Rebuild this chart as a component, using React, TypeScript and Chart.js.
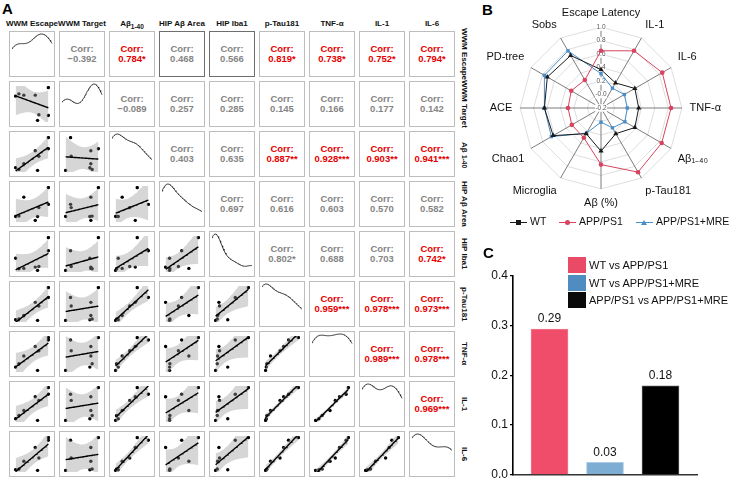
import React, { useEffect, useRef } from "react";
import { Chart, registerables } from "chart.js";

Chart.register(...registerables);

const FONT = "'Liberation Sans', Arial, Helvetica, sans-serif";

// ---------- Panel A data (relative values per sample) ----------
const varNames = ["WWM Escape", "WWM Target", "Aβ1-40", "HIP Aβ Area", "HIP Iba1", "p-Tau181", "TNF-α", "IL-1", "IL-6"];
const wwmEscape = [1.0, 1.0, 0.6, 0.71, 0.25, 0.0, 0.1, 0.67];
const wwmTarget = [1.0, 0.15, 0.77, 0.17, 0.77, 0.74, 0.81, 0.0];
const abeta140 = [0.66, 1.0, 0.6, 0.43, 0.2, 0.08, 0.03, 0.0];
const hipArea = [1.0, 0.49, 0.0, 0.39, 0.71, 0.12, 0.13, 0.12];
const hipIba1 = [1.0, 0.6, 0.1, 0.12, 0.06, 0.37, 0.05, 0.0];
const pTau181 = [1.0, 0.7, 0.55, 0.44, 0.15, 0.02, 0.04, 0.0];
const tnfA = [1.0, 0.93, 0.73, 0.6, 0.44, 0.1, 0.2, 0.0];
const il1 = [1.0, 0.8, 0.72, 0.61, 0.3, 0.05, 0.15, 0.0];
const il6 = [1.0, 0.92, 0.7, 0.38, 0.28, 0.02, 0.04, 0.0];
const sampleTable = [wwmEscape, wwmTarget, abeta140, hipArea, hipIba1, pTau181, tnfA, il1, il6];

const corrText = [
  ["−0.392", "0.784*", "0.468", "0.566", "0.819*", "0.738*", "0.752*", "0.794*"],
  ["−0.089", "0.257", "0.285", "0.145", "0.166", "0.177", "0.142"],
  ["0.403", "0.635", "0.887**", "0.928***", "0.903**", "0.941***"],
  ["0.697", "0.616", "0.603", "0.570", "0.582"],
  ["0.802*", "0.688", "0.703", "0.742*"],
  ["0.959***", "0.978***", "0.973***"],
  ["0.989***", "0.978***"],
  ["0.969***"],
];
const corrRed = [
  [false, true, false, false, true, true, true, true],
  [false, false, false, false, false, false, false],
  [false, false, true, true, true, true],
  [false, false, false, false, false],
  [false, false, false, true],
  [true, true, true],
  [true, true],
  [true],
];

// ---------- Panel B data ----------
const radarAxes = ["Escape Latency", "IL-1", "IL-6", "TNF-α", "Aβ₁₋₄₀", "p-Tau181", "Aβ (%)", "Microglia", "Chao1", "ACE", "PD-tree", "Sobs"];
const radarWT = [0.37, 0.23, 0.38, 0.36, 0.38, 0.24, 0.44, 0.24, 0.62, 0.64, 0.72, 0.7];
const radarAPP = [0.65, 0.78, 0.85, 0.84, 0.84, 0.9, 0.64, 0.31, 0.3, 0.29, 0.31, 0.28];
const radarMRE = [0.31, 0.14, 0.2, 0.19, 0.21, 0.14, 0.01, 0.23, 0.65, 0.64, 0.77, 0.78];
const radarSeries = ["WT", "APP/PS1", "APP/PS1+MRE"];

// ---------- Panel C data ----------
const barLabels = ["WT vs APP/PS1", "WT vs APP/PS1+MRE", "APP/PS1 vs APP/PS1+MRE"];
const barValues = [0.293, 0.025, 0.179];
const barTicks = [0, 0.1, 0.2, 0.3, 0.4];

const RED = "#d9435f";
const BLUE = "#4a8dc8";
const BLACK = "#1a1a1a";

// ---------- helpers ----------
function mean(v: number[]) {
  return v.reduce((a, b) => a + b, 0) / v.length;
}
function quantile(sorted: number[], p: number) {
  const h = (sorted.length - 1) * p;
  const lo = Math.floor(h);
  const hi = Math.min(lo + 1, sorted.length - 1);
  return sorted[lo] + (h - lo) * (sorted[hi] - sorted[lo]);
}
function bwNrd0(v: number[]) {
  const n = v.length;
  const m = mean(v);
  const sd = Math.sqrt(v.reduce((a, b) => a + (b - m) * (b - m), 0) / (n - 1));
  const s = [...v].sort((a, b) => a - b);
  const iqr = quantile(s, 0.75) - quantile(s, 0.25);
  let lo = Math.min(sd, iqr / 1.34);
  if (!(lo > 0)) lo = sd || 1;
  return 0.9 * lo * Math.pow(n, -0.2);
}
function range(v: number[]) {
  const mn = Math.min(...v);
  const mx = Math.max(...v);
  const pad = (mx - mn) * 0.05;
  return { mn, mx, lo: mn - pad, hi: mx + pad };
}

const baseOptions = {
  animation: false as const,
  responsive: false,
  events: [] as any[],
  layout: { padding: 0 },
  plugins: { legend: { display: false }, tooltip: { enabled: false } },
};

function lowerConfig(xs: number[], ys: number[]): any {
  const n = xs.length;
  const rx = range(xs);
  const ry = range(ys);
  const mx = mean(xs);
  const my = mean(ys);
  let sxx = 0;
  let sxy = 0;
  xs.forEach((x, i) => {
    sxx += (x - mx) * (x - mx);
    sxy += (x - mx) * (ys[i] - my);
  });
  const b = sxy / sxx;
  const a = my - b * mx;
  let sse = 0;
  xs.forEach((x, i) => {
    const r = ys[i] - (a + b * x);
    sse += r * r;
  });
  const s = Math.sqrt(sse / (n - 2));
  const t = 2.447; // t(0.975, df = 6)
  const line: any[] = [];
  const up: any[] = [];
  const lo: any[] = [];
  const steps = 40;
  for (let k = 0; k <= steps; k++) {
    const x = rx.mn + ((rx.mx - rx.mn) * k) / steps;
    const yh = a + b * x;
    const se = s * Math.sqrt(1 / n + ((x - mx) * (x - mx)) / sxx);
    line.push({ x, y: yh });
    up.push({ x, y: yh + t * se });
    lo.push({ x, y: yh - t * se });
  }
  const pts = xs.map((x, i) => ({ x, y: ys[i] }));
  return {
    type: "scatter",
    data: {
      datasets: [
        { data: line, showLine: true, borderColor: "#000", borderWidth: 1.4, pointRadius: 0, fill: false },
        { data: up, showLine: true, borderColor: "rgba(0,0,0,0)", borderWidth: 0, pointRadius: 0, fill: "+1", backgroundColor: "rgba(153,153,153,0.4)" },
        { data: lo, showLine: true, borderColor: "rgba(0,0,0,0)", borderWidth: 0, pointRadius: 0, fill: false },
        { data: pts, pointRadius: 1.7, pointBackgroundColor: "#000", pointBorderWidth: 0, showLine: false },
      ],
    },
    options: {
      ...baseOptions,
      scales: {
        x: { type: "linear", display: false, min: rx.lo, max: rx.hi },
        y: { type: "linear", display: false, min: ry.lo, max: ry.hi },
      },
    },
  };
}

function diagConfig(v: number[]): any {
  const r = range(v);
  const bw = bwNrd0(v);
  const pts: any[] = [];
  const steps = 60;
  let dmax = 0;
  for (let k = 0; k <= steps; k++) {
    const x = r.mn + ((r.mx - r.mn) * k) / steps;
    let d = 0;
    v.forEach((xi) => {
      const z = (x - xi) / bw;
      d += Math.exp(-0.5 * z * z);
    });
    d = d / (v.length * bw * Math.sqrt(2 * Math.PI));
    dmax = Math.max(dmax, d);
    pts.push({ x, y: d });
  }
  return {
    type: "scatter",
    data: { datasets: [{ data: pts, showLine: true, borderColor: "#222", borderWidth: 0.9, pointRadius: 0, fill: false }] },
    options: {
      ...baseOptions,
      scales: {
        x: { type: "linear", display: false, min: r.lo, max: r.hi },
        y: { type: "linear", display: false, min: -0.05 * dmax, max: 1.05 * dmax },
      },
    },
  };
}

function ChartCanvas(props: { make: () => any; left: number; top: number; width: number; height: number }) {
  const ref = useRef<HTMLCanvasElement>(null);
  useEffect(() => {
    const chart = new Chart(ref.current as HTMLCanvasElement, props.make());
    return () => chart.destroy();
  }, []);
  return (
    <canvas
      ref={ref}
      width={props.width}
      height={props.height}
      style={{ position: "absolute", left: props.left, top: props.top, width: props.width, height: props.height }}
    />
  );
}

function VarLabel({ name }: { name: string }) {
  if (name === "Aβ1-40") {
    return (
      <span>
        Aβ<span style={{ fontSize: "6.5px", position: "relative", top: "2.5px" }}>1-40</span>
      </span>
    );
  }
  return <span>{name}</span>;
}

// ---------- Panel A ----------
const CELL_X0 = 9;
const CELL_Y0 = 31;
const PITCH = 50;
const CELL = 46;

function PanelA() {
  const cells: any[] = [];
  for (let r = 0; r < 9; r++) {
    for (let c = 0; c < 9; c++) {
      const left = CELL_X0 + PITCH * c;
      const top = CELL_Y0 + PITCH * r;
      const dark = r === 0 && (c === 3 || c === 4);
      cells.push(
        <div
          key={`b${r}-${c}`}
          style={{
            position: "absolute",
            left,
            top,
            width: CELL,
            height: CELL,
            boxSizing: "border-box",
            border: `1px solid ${dark ? "#6e6e6e" : "#bdbdbd"}`,
            background: "#fff",
          }}
        />
      );
      if (c > r) {
        const txt = corrText[r][c - r - 1];
        const red = corrRed[r][c - r - 1];
        cells.push(
          <div
            key={`t${r}-${c}`}
            style={{
              position: "absolute",
              left,
              top,
              width: CELL,
              height: CELL,
              display: "flex",
              flexDirection: "column",
              alignItems: "center",
              justifyContent: "center",
              fontFamily: FONT,
              fontWeight: "bold",
              fontSize: "9.5px",
              lineHeight: "10.5px",
              color: red ? "#e60000" : "#858585",
              whiteSpace: "nowrap",
            }}
          >
            <div>Corr:</div>
            <div>{txt}</div>
          </div>
        );
      } else if (c === r) {
        cells.push(<ChartCanvas key={`d${r}`} make={() => diagConfig(sampleTable[r])} left={left + 1} top={top + 1} width={CELL - 2} height={CELL - 2} />);
      } else {
        cells.push(
          <ChartCanvas
            key={`l${r}-${c}`}
            make={() => lowerConfig(sampleTable[c], sampleTable[r])}
            left={left + 1}
            top={top + 1}
            width={CELL - 2}
            height={CELL - 2}
          />
        );
      }
    }
  }
  return (
    <>
      <div style={{ position: "absolute", left: 2, top: 1, fontFamily: FONT, fontWeight: "bold", fontSize: "15px", lineHeight: "16px" }}>A</div>
      {varNames.map((n, c) => (
        <div
          key={`h${c}`}
          style={{
            position: "absolute",
            left: CELL_X0 + PITCH * c - 6,
            width: CELL + 12,
            top: 18,
            height: 12,
            textAlign: "center",
            fontFamily: FONT,
            fontWeight: "bold",
            fontSize: "8px",
            lineHeight: "12px",
            whiteSpace: "nowrap",
            color: "#111",
          }}
        >
          <VarLabel name={n} />
        </div>
      ))}
      {varNames.map((n, r) => (
        <div
          key={`v${r}`}
          style={{
            position: "absolute",
            left: 458,
            width: 12,
            top: CELL_Y0 + PITCH * r - 6,
            height: CELL + 12,
            writingMode: "vertical-rl",
            textAlign: "center",
            fontFamily: FONT,
            fontWeight: "bold",
            fontSize: "8px",
            lineHeight: "12px",
            whiteSpace: "nowrap",
            color: "#111",
          }}
        >
          <VarLabel name={n} />
        </div>
      ))}
      {cells}
    </>
  );
}

// ---------- Panel B ----------
function radarConfig(): any {
  return {
    type: "radar",
    data: {
      labels: radarAxes,
      datasets: [
        { label: radarSeries[1], data: radarAPP, borderColor: RED, backgroundColor: RED, pointBackgroundColor: RED, pointBorderWidth: 0, pointStyle: "circle", pointRadius: 2.3, borderWidth: 1, fill: false },
        { label: radarSeries[0], data: radarWT, borderColor: BLACK, backgroundColor: BLACK, pointBackgroundColor: BLACK, pointBorderWidth: 0, pointStyle: "triangle", pointRadius: 3, borderWidth: 1, fill: false },
        { label: radarSeries[2], data: radarMRE, borderColor: BLUE, backgroundColor: BLUE, pointBackgroundColor: BLUE, pointBorderWidth: 0, pointStyle: "rect", pointRadius: 2.4, borderWidth: 1, fill: false },
      ],
    },
    options: {
      ...baseOptions,
      layout: { padding: { top: 4, bottom: 4, left: 0, right: 0 } },
      scales: {
        r: {
          min: -0.2,
          max: 1.0,
          ticks: {
            stepSize: 0.2,
            color: "#555",
            font: { size: 6.5, family: FONT },
            showLabelBackdrop: true,
            backdropColor: "#fff",
            backdropPadding: 0.5,
            callback: (v: number) => v.toFixed(1),
          },
          grid: { color: "#d6d6d6", circular: false, lineWidth: 0.8 },
          angleLines: { color: "#5c5c5c", lineWidth: 0.8 },
          pointLabels: { color: "#111", font: { size: 11, family: FONT }, padding: 4 },
        },
      },
    },
  };
}

function LegendMark({ color, shape }: { color: string; shape: string }) {
  const marker: any = { position: "absolute", left: 6, top: 0, width: 5, height: 5, background: color };
  if (shape === "circle") marker.borderRadius = "50%";
  if (shape === "triangle") {
    marker.background = "transparent";
    marker.width = 0;
    marker.height = 0;
    marker.left = 5;
    marker.borderLeft = "3.5px solid transparent";
    marker.borderRight = "3.5px solid transparent";
    marker.borderBottom = `5px solid ${color}`;
  }
  return (
    <span style={{ position: "relative", display: "inline-block", width: 17, height: 5, marginRight: 3, verticalAlign: "middle" }}>
      <span style={{ position: "absolute", left: 0, top: 2, width: 17, height: 1.2, background: color }} />
      <span style={marker} />
    </span>
  );
}

function PanelB() {
  const legendItems = [
    { name: radarSeries[0], color: BLACK, shape: "square", left: 510 },
    { name: radarSeries[1], color: RED, shape: "circle", left: 559 },
    { name: radarSeries[2], color: BLUE, shape: "triangle", left: 636 },
  ];
  return (
    <>
      <div style={{ position: "absolute", left: 482, top: 2, fontFamily: FONT, fontWeight: "bold", fontSize: "15px", lineHeight: "16px" }}>B</div>
      <ChartCanvas make={radarConfig} left={484} top={0} width={240} height={217} />
      {legendItems.map((it) => (
        <div
          key={it.name}
          style={{ position: "absolute", left: it.left, top: 214, height: 14, lineHeight: "14px", fontFamily: FONT, fontSize: "10.5px", color: "#111", whiteSpace: "nowrap" }}
        >
          <LegendMark color={it.color} shape={it.shape} />
          {it.name}
        </div>
      ))}
    </>
  );
}

// ---------- Panel C ----------
const barColors = ["#f04d6a", "#7eadd3", "#000000"];
const barLegendColors = ["#e94b66", "#4f8dc0", "#0a0a0a"];

function barConfig(): any {
  const valueLabels = {
    id: "valueLabels",
    afterDatasetsDraw(chart: any) {
      const ctx = chart.ctx;
      const meta = chart.getDatasetMeta(0);
      ctx.save();
      ctx.font = `12px ${FONT}`;
      ctx.fillStyle = "#111";
      ctx.textAlign = "center";
      ctx.textBaseline = "bottom";
      meta.data.forEach((el: any, i: number) => {
        const v = barValues[i];
        ctx.fillText((Math.round(v * 100) / 100).toFixed(2), el.x, el.y - 4);
      });
      ctx.restore();
    },
  };
  return {
    type: "bar",
    data: {
      datasets: [
        {
          label: "distance",
          data: barValues.map((v, i) => ({ x: i + 1, y: v })),
          backgroundColor: barColors,
          borderColor: ["#f37a90", "#a9c9e4", "#555"],
          borderWidth: 1,
          barThickness: 37,
        },
      ],
    },
    plugins: [valueLabels],
    options: {
      ...baseOptions,
      layout: { padding: { top: 10, bottom: 7, left: 0, right: 32 } },
      scales: {
        x: {
          type: "linear",
          min: 0.342,
          max: 3.658,
          offset: false,
          ticks: { display: false },
          grid: { display: false },
          border: { display: true, color: "#333", width: 1.6 },
          afterFit: (s: any) => {
            s.height = 0;
          },
        },
        y: {
          min: 0,
          max: 0.4,
          afterBuildTicks: (s: any) => {
            s.ticks = barTicks.map((v) => ({ value: v }));
          },
          ticks: { color: "#111", font: { size: 12, family: FONT }, padding: 2, callback: (v: number) => v.toFixed(1) },
          grid: { drawOnChartArea: false, drawTicks: true, tickLength: 3, color: "#000", lineWidth: 1.3 },
          border: { display: true, color: "#000", width: 1.6 },
          afterFit: (s: any) => {
            s.width = 33;
          },
        },
      },
    },
  };
}

function PanelC() {
  const tops = [257, 275, 292];
  return (
    <>
      <div style={{ position: "absolute", left: 483, top: 245, fontFamily: FONT, fontWeight: "bold", fontSize: "15px", lineHeight: "16px" }}>C</div>
      <ChartCanvas make={barConfig} left={480} top={266} width={249} height={218} />
      {barLabels.map((l, i) => (
        <div key={l}>
          <div style={{ position: "absolute", left: 568, top: tops[i], width: 18, height: 16, background: barLegendColors[i] }} />
          <div
            style={{ position: "absolute", left: 589, top: tops[i], height: 16, lineHeight: "16px", fontFamily: FONT, fontSize: "11px", color: "#111", whiteSpace: "nowrap" }}
          >
            {l}
          </div>
        </div>
      ))}
    </>
  );
}

export default function App() {
  return (
    <div style={{ position: "absolute", left: 0, top: 0, width: 729, height: 484, background: "#fff", overflow: "hidden" }}>
      <PanelA />
      <PanelB />
      <PanelC />
    </div>
  );
}
